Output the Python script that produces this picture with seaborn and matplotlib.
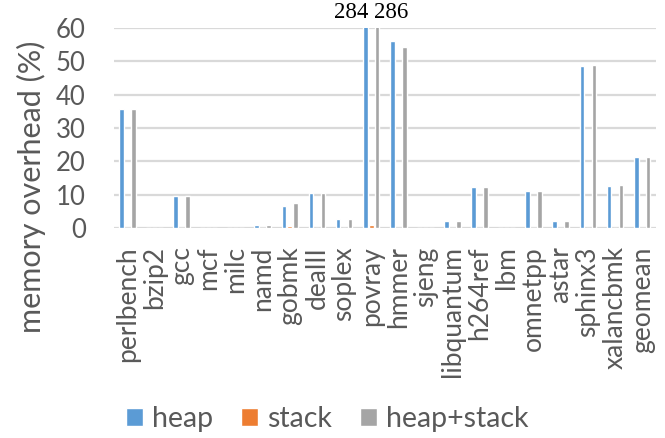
import matplotlib
matplotlib.use("Agg")
import matplotlib.pyplot as plt
import seaborn as sns
import pandas as pd

categories = ["perlbench", "bzip2", "gcc", "mcf", "milc", "namd", "gobmk", "dealII",
              "soplex", "povray", "hmmer", "sjeng", "libquantum", "h264ref", "lbm",
              "omnetpp", "astar", "sphinx3", "xalancbmk", "geomean"]
heap = [35.7, 0, 9.8, 0, 0, 1.0, 6.8, 10.7, 2.7, 284, 56.2, 0, 2.1, 12.2, 0, 11.2, 2.1, 48.7, 12.7, 21.4]
stack = [0, 0, 0, 0, 0, 0, 0.8, 0, 0, 1.1, 0, 0, 0, 0, 0, 0, 0, 0, 0, 0]
heap_stack = [35.7, 0, 9.8, 0, 0, 1.0, 7.6, 10.7, 2.7, 286, 54.2, 0, 2.2, 12.4, 0, 11.3, 2.1, 48.8, 13.0, 21.4]
series = ["heap", "stack", "heap+stack"]
colors = ["#5B9BD5", "#ED7D31", "#A5A5A5"]
yticks = [0, 10, 20, 30, 40, 50, 60]

rows = []
for name, vals in zip(series, [heap, stack, heap_stack]):
    for c, v in zip(categories, vals):
        rows.append({"benchmark": c, "series": name, "value": v})
df = pd.DataFrame(rows)

sns.set_theme(style="white")
plt.rcParams["font.family"] = ["Lato", "DejaVu Sans"]

fig = plt.figure(figsize=(6.65, 4.38), dpi=100)
ax = fig.add_axes([0.171, 0.479, 0.815, 0.457])

sns.barplot(data=df, x="benchmark", y="value", hue="series", order=categories,
            hue_order=series, palette=colors, width=0.66, gap=0.2,
            saturation=1, ax=ax, legend=True)

ax.set_ylim(0, 60)
ax.set_xlim(-0.5, len(categories) - 0.5)
ax.set_yticks(yticks)
ax.yaxis.grid(True, color="#D9D9D9", linewidth=1.6)
ax.set_axisbelow(True)
for s in ax.spines.values():
    s.set_visible(False)
ax.tick_params(axis="both", length=0, colors="#595959")
ax.tick_params(axis="y", labelsize=18.5, pad=20)
ax.tick_params(axis="x", labelsize=19, pad=13)
plt.setp(ax.get_xticklabels(), rotation=90)
ax.set_xlabel("")
ax.set_ylabel("")
fig.text(0.047, 0.573, "memory overhead (%)", rotation=90, ha="center", va="center",
         fontsize=22, color="#595959")

# labels for clipped povray bars
i = categories.index("povray")
ax.text(i - 0.22 + 0.1, 61.5, f"{heap[i]:g}", ha="right", va="bottom",
        fontsize=16.5, family="Liberation Serif", color="black", clip_on=False)
ax.text(i + 0.22 - 0.1, 61.5, f"{heap_stack[i]:g}", ha="left", va="bottom",
        fontsize=16.5, family="Liberation Serif", color="black", clip_on=False)

handles, labels = ax.get_legend_handles_labels()
ax.legend_.remove()
fig.legend(handles, labels, loc="lower center", bbox_to_anchor=(0.492, -0.045),
           ncol=3, frameon=False, fontsize=20.5, handlelength=0.6, handleheight=0.6,
           handletextpad=0.3, columnspacing=1.0, labelcolor="#595959")

fig.savefig("out.png", dpi=100)
